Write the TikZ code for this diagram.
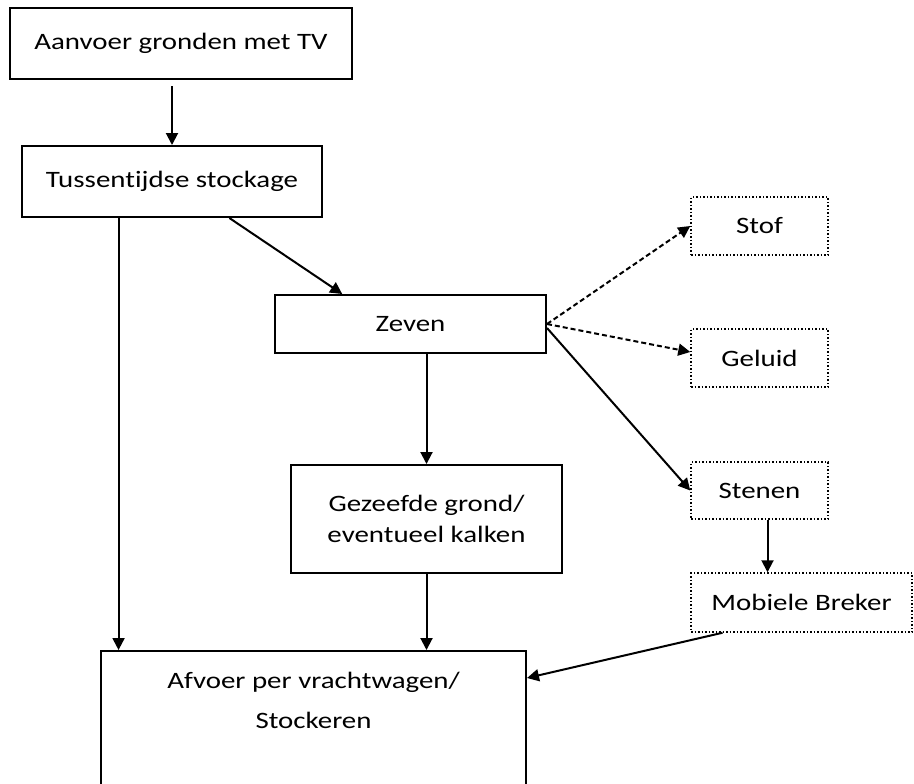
\documentclass[tikz,border=0pt]{standalone}
\usepackage{fontspec}
\setmainfont{Carlito}[FakeStretch=1.23,Ligatures={NoCommon,NoContextual,NoRequired}]
\usetikzlibrary{arrows.meta,calc}
\tikzset{
  box/.style={draw,line width=1pt,inner sep=0pt,align=center},
  dotbox/.style={draw,line width=0.75pt,densely dotted,inner sep=0pt,align=center},
  flow/.style={line width=1pt,-{Triangle[length=6pt,width=6pt]}},
  flowdash/.style={flow,dash pattern=on 2.5pt off 1.5pt},
}
\begin{document}
\begin{tikzpicture}[x=0.5pt,y=-0.5pt,font=\fontsize{11.75}{15.5}\selectfont]
		\useasboundingbox (0,0) rectangle (914,783);
		\clip (0,0) rectangle (914,783);
		% main chain
		\node[box,minimum width=171pt,minimum height=35.5pt] (aanvoer) at (181,43.5) {Aanvoer gronden met TV};
		\node[box,minimum width=150pt,minimum height=35.5pt] (tuss) at (172,181.5) {Tussent\kern0pt ijdse stockage};
		\node[box,minimum width=135.5pt,minimum height=29pt] (zeven) at (410.5,324) {Zeven};
		\node[box,minimum width=135.5pt,minimum height=54pt] (gezeefd) at (426.5,519) {Gezeefde grond/\\eventueel kalken};
		\node[box,minimum width=212.5pt,minimum height=69pt,font=\fontsize{11.75}{20}\selectfont] (afvoer) at (313.5,720) {Afvoer per vrachtwagen/\\Stockeren\\\mbox{}};
		% side outputs
		\node[dotbox,minimum width=68.5pt,minimum height=29pt] (stof) at (759.5,226) {Stof};
		\node[dotbox,minimum width=68.5pt,minimum height=29pt] (geluid) at (759.5,358) {Geluid};
		\node[dotbox,minimum width=68.5pt,minimum height=28.5pt] (stenen) at (759.5,490.5) {Stenen};
		\node[dotbox,minimum width=110.5pt,minimum height=29.5pt] (breker) at (801.5,602.5) {Mobiele Breker};
		% connectors
		\draw[flow,shorten <=3pt] (aanvoer.south -| tuss.north) -- (tuss.north);
		\draw[flow] ($(tuss.south west)!0.69!(tuss.south east)$) -- ($(zeven.north west)!0.25!(zeven.north east)$);
		\draw[flow] ($(tuss.south west)!0.323!(tuss.south east)$) coordinate (tl) -- (tl |- afvoer.north);
		\draw[flow] (zeven.south -| gezeefd.north) -- (gezeefd.north);
		\draw[flow] (gezeefd.south) -- (gezeefd.south |- afvoer.north);
		\draw[flowdash] (zeven.east) -- (stof.west);
		\draw[flowdash] (zeven.east) -- ([yshift=3pt]geluid.west);
		\draw[flow] ([yshift=-2pt]zeven.east) -- (stenen.west);
		\draw[flow] ([xshift=4pt]stenen.south) -- ([xshift=4pt]stenen.south |- breker.north);
		\draw[flow] ($(breker.south west)!0.145!(breker.south east)$) -- ([yshift=21pt]afvoer.east);
\end{tikzpicture}
\end{document}
